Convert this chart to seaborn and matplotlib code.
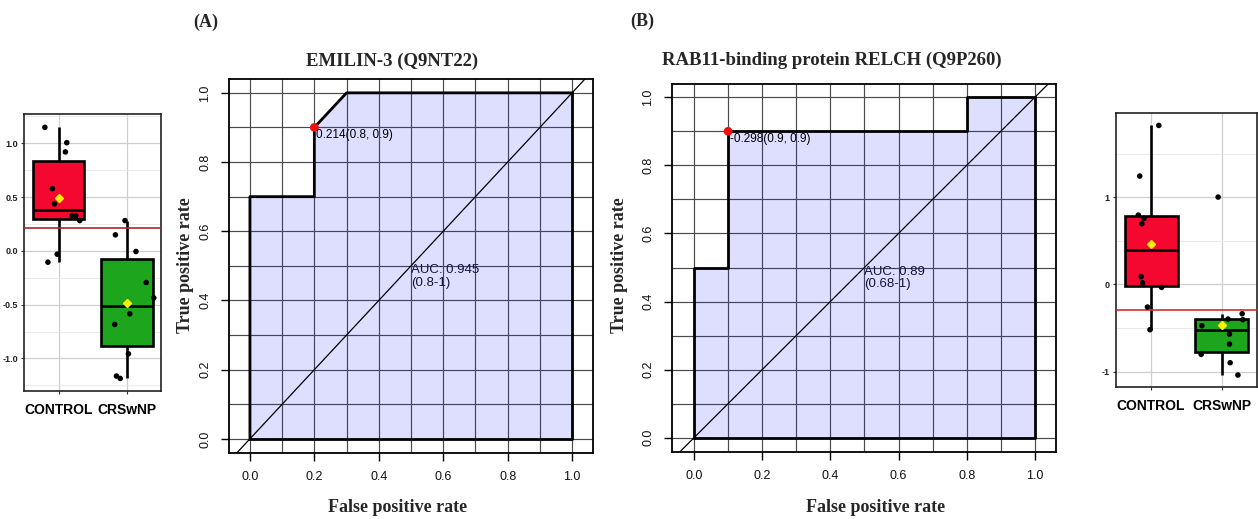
import numpy as np
import pandas as pd
import matplotlib
matplotlib.use("Agg")
import matplotlib.pyplot as plt
from matplotlib.ticker import MultipleLocator
import seaborn as sns

# ---------------- data ----------------
groups = ["CONTROL", "CRSwNP"]

# Panel A box plot (EMILIN-3)
a_control = [1.149, 1.006, 0.920, 0.579, 0.437, 0.328, 0.325, 0.282, -0.031, -0.105]
a_crswnp = [0.282, 0.149, -0.006, -0.294, -0.437, -0.585, -0.684, -0.957, -1.164, -1.186]
a_control_jit = [-0.20, 0.12, 0.10, -0.09, -0.06, 0.20, 0.25, 0.31, -0.02, -0.155]
a_crswnp_jit = [-0.03, -0.17, 0.13, 0.28, 0.39, 0.04, -0.18, 0.02, -0.155, -0.10]
a_cutoff = 0.214

# Panel B box plot (RELCH)
b_control = [1.824, 1.243, 0.795, 0.757, 0.696, 0.088, 0.019, -0.034, -0.260, -0.520]
b_crswnp = [1.002, -0.337, -0.398, -0.405, -0.474, -0.570, -0.685, -0.803, -0.899, -1.040]
b_control_jit = [0.11, -0.16, -0.18, -0.10, -0.13, -0.14, -0.12, 0.15, -0.05, -0.015]
b_crswnp_jit = [-0.05, 0.29, 0.09, 0.30, -0.28, 0.11, 0.11, -0.29, 0.12, 0.23]
b_cutoff = -0.298

# ROC curves
rocA_fpr = [0.0, 0.0, 0.2, 0.2, 0.3, 1.0]
rocA_tpr = [0.0, 0.7, 0.7, 0.9, 1.0, 1.0]
rocB_fpr = [0.0, 0.0, 0.1, 0.1, 0.8, 0.8, 1.0]
rocB_tpr = [0.0, 0.5, 0.5, 0.9, 0.9, 1.0, 1.0]

best_A = (0.214, 0.8, 0.9)     # threshold, specificity, sensitivity
best_B = (-0.298, 0.9, 0.9)
auc_A = ("0.945", "0.8-1")
auc_B = ("0.89", "0.68-1")

title_A = "EMILIN-3 (Q9NT22)"
title_B = "RAB11-binding protein RELCH (Q9P260)"

# ---------------- figure ----------------
sns.set_theme(style="white")
plt.rcParams["font.family"] = ["Liberation Sans", "DejaVu Sans"]

W, H = 1258, 519
fig = plt.figure(figsize=(W / 100, H / 100), dpi=100)


def rect(l, t, r, b):
    return [l / W, 1 - b / H, (r - l) / W, (b - t) / H]


ax_lb = fig.add_axes(rect(24.3, 114.3, 161.3, 390.7))
ax_A = fig.add_axes(rect(229.3, 79, 592.7, 452.7))
ax_B = fig.add_axes(rect(672.3, 84, 1056, 451.7))
ax_rb = fig.add_axes(rect(1115.7, 112.7, 1257, 386.7))

SERIF = ["Liberation Serif", "DejaVu Serif"]


def draw_box(ax, ctrl, crs, ctrl_jit, crs_jit, cutoff, cut_color, ylim, major, minor):
    df = pd.DataFrame({
        "group": [groups[0]] * len(ctrl) + [groups[1]] * len(crs),
        "value": ctrl + crs,
    })
    ax.set_ylim(*ylim)
    ax.set_xlim(-0.6, 1.6)
    ax.yaxis.set_major_locator(MultipleLocator(major))
    ax.yaxis.set_minor_locator(MultipleLocator(minor))
    ax.grid(True, which="major", axis="y", color="#cfcfcf", lw=0.9)
    ax.grid(True, which="minor", axis="y", color="#e6e6e6", lw=0.6)
    ax.set_axisbelow(True)
    sns.boxplot(data=df, x="group", y="value", hue="group", order=groups,
                palette={groups[0]: "#f5082f", groups[1]: "#1ea51e"},
                saturation=1, width=0.75, linecolor="black", linewidth=1.9,
                showfliers=False, showmeans=True, legend=False,
                meanprops=dict(marker="D", markerfacecolor="#ffee00",
                               markeredgecolor="#ffee00", markersize=4.5, zorder=6),
                capprops=dict(linewidth=0), ax=ax)
    xs = [0 + j for j in ctrl_jit] + [1 + j for j in crs_jit]
    sns.scatterplot(x=xs, y=ctrl + crs, color="black", s=16, edgecolor="none",
                    ax=ax, zorder=5, legend=False)
    for xv in (0, 1):
        ax.axvline(xv, color="#cfcfcf", lw=0.9, zorder=0)
    ax.axhline(cutoff, color=cut_color, lw=1.2, zorder=4)
    ax.set_xticks([0, 1])
    ax.set_xticklabels(groups, fontsize=10, fontweight="bold", color="black")
    ax.set_xlabel("")
    ax.set_ylabel("")
    ax.tick_params(axis="x", length=2.5, width=0.8, color="#333333", pad=6, bottom=True)
    ax.tick_params(axis="y", which="major", labelsize=6.5, length=2.5, width=0.8,
                   color="#333333", labelcolor="#222222", pad=2, left=True)
    ax.tick_params(axis="y", which="minor", length=0)
    for lab in ax.get_yticklabels():
        lab.set_fontweight("bold")
    for sp in ax.spines.values():
        sp.set_color("#222222")
        sp.set_linewidth(1.2)


draw_box(ax_lb, a_control, a_crswnp, a_control_jit, a_crswnp_jit, a_cutoff, "#a82828",
         (-1.30, 1.27), 0.5, 0.25)
ax_lb.yaxis.set_major_formatter(matplotlib.ticker.FormatStrFormatter("%.1f"))
draw_box(ax_rb, b_control, b_crswnp, b_control_jit, b_crswnp_jit, b_cutoff, "#d03030",
         (-1.174, 1.97), 1.0, 0.5)
ax_rb.yaxis.set_major_formatter(matplotlib.ticker.FormatStrFormatter("%d"))


def draw_roc(ax, fpr, tpr, best, auc, xlim, ylim):
    ax.set_xlim(*xlim)
    ax.set_ylim(*ylim)
    ax.xaxis.set_major_locator(MultipleLocator(0.2))
    ax.xaxis.set_minor_locator(MultipleLocator(0.1))
    ax.yaxis.set_major_locator(MultipleLocator(0.2))
    ax.yaxis.set_minor_locator(MultipleLocator(0.1))
    ax.grid(True, which="both", color="#4a4a4a", lw=0.85)
    ax.set_axisbelow(True)
    ax.fill_between(fpr, tpr, 0, color="#1a1aff", alpha=0.14, lw=0, zorder=1)
    ax.axline((0, 0), slope=1, color="black", lw=0.9, zorder=2)
    sns.lineplot(x=fpr, y=tpr, sort=False, estimator=None, color="black",
                 lw=2.0, ax=ax, zorder=3)
    ax.plot([fpr[-1], fpr[-1], fpr[0]], [tpr[-1], 0, 0], color="black",
            lw=2.0, zorder=3, solid_capstyle="projecting")
    thr, spec, sens = best
    ax.scatter([1 - spec], [sens], color="#ee1111", s=40, zorder=6, edgecolor="none")
    ax.text(1 - spec + 0.005, sens - 0.005, f"{thr:.3f}({spec:g}, {sens:g})",
            ha="left", va="top", fontsize=8.5, color="black", zorder=7)
    ax.text(0.5, 0.505, f"AUC: {auc[0]}\n({auc[1]})", ha="left", va="top",
            fontsize=9.5, color="#141440", linespacing=1.05, zorder=7)
    ax.tick_params(axis="both", which="major", direction="out", length=6,
                   width=1.0, color="black", labelsize=9, labelcolor="#111111",
                   bottom=True, left=True, pad=7)
    ax.tick_params(axis="both", which="minor", length=0)
    ax.xaxis.set_major_formatter(matplotlib.ticker.FormatStrFormatter("%.1f"))
    ax.yaxis.set_major_formatter(matplotlib.ticker.FormatStrFormatter("%.1f"))
    for lab in ax.get_yticklabels():
        lab.set_rotation(90)
        lab.set_va("center")
    for sp in ax.spines.values():
        sp.set_color("black")
        sp.set_linewidth(1.3)
    ax.set_xlabel("")
    ax.set_ylabel("")


draw_roc(ax_A, rocA_fpr, rocA_tpr, best_A, auc_A, (-0.064, 1.064), (-0.04, 1.04))
draw_roc(ax_B, rocB_fpr, rocB_tpr, best_B, auc_B, (-0.0636, 1.062), (-0.041, 1.039))

# text labels
fig.text(206 / W, 1 - 22 / H, "(A)", family=SERIF, fontweight="bold", fontsize=13,
         ha="center", va="center")
fig.text(642 / W, 1 - 21 / H, "(B)", family=SERIF, fontweight="bold", fontsize=13,
         ha="center", va="center")
fig.text(392 / W, 1 - 61 / H, title_A, family=SERIF, fontweight="bold", fontsize=13.5,
         ha="center", va="center")
fig.text(832 / W, 1 - 60 / H, title_B, family=SERIF, fontweight="bold", fontsize=13.5,
         ha="center", va="center")
for xc in (398, 876):
    fig.text(xc / W, 1 - 508 / H, "False positive rate", family=SERIF,
             fontweight="bold", fontsize=13, ha="center", va="center")
for xc in (185, 620):
    fig.text(xc / W, 1 - 265 / H, "True positive rate", family=SERIF,
             fontweight="bold", fontsize=13, ha="center", va="center", rotation=90)

fig.savefig("out.png", dpi=100, facecolor="white")
